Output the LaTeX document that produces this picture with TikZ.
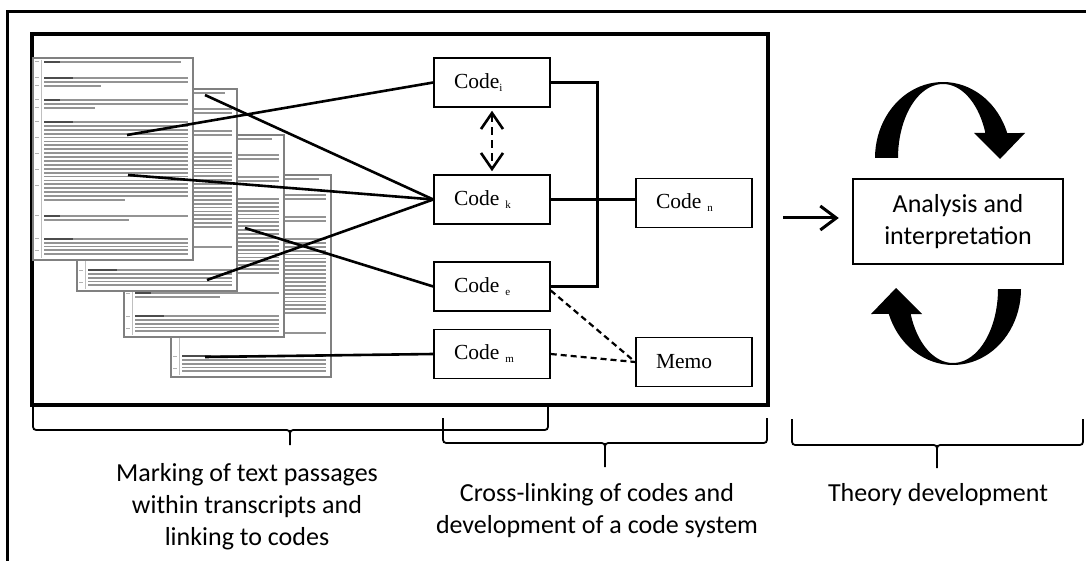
\documentclass[tikz,border=0pt]{standalone}
\usepackage{fontspec}
\setmainfont{Carlito}
\newfontfamily\tnr{Liberation Serif}
\usetikzlibrary{arrows.meta,calc}
\newcommand\sub[1]{\raisebox{-3pt}{\fontsize{11}{11}\selectfont #1}}
\newcommand\wbrace[6]{%
 \draw[bracepath] (#1,#4) -- (#1,#5-7) .. controls (#1,#5) .. (#1+7,#5) -- (#3-7,#5) .. controls (#3,#5) .. (#3,#5+7) -- (#3,#6);
 \draw[bracepath] (#2,#4) -- (#2,#5-7) .. controls (#2,#5) .. (#2-7,#5) -- (#3+7,#5) .. controls (#3,#5) .. (#3,#5+7);
}
\tikzset{
  pageborder/.style={draw=black!50,line width=2.2pt},
  txt/.style={black!42,line width=1.8pt},
  boldtxt/.style={black!70,line width=1.9pt},
  codebox/.style={draw,line width=1.5pt,minimum height=49pt,inner xsep=20pt,inner ysep=0pt,text width=76pt,align=left,font=\tnr\fontsize{21.5}{23}\selectfont},
  conn/.style={line width=2.6pt},
  dashconn/.style={line width=2.2pt,dash pattern=on 6pt off 4pt},
  lbl/.style={font=\fontsize{26}{32}\selectfont,align=center},
  bracepath/.style={line width=1.8pt},
  transcript/.pic={
    \fill[white] (0,0) rectangle (160,202);
    \draw[black!25,line width=0.6pt] (8,2) -- (8,200);
    \draw[txt] (11,4) -- (148,4); \draw[boldtxt] (11,4) -- (27,4);
    \foreach \yy/\ee in {20/155,24/155,28/68} {\draw[txt] (11,\yy) -- (\ee,\yy);}
    \draw[boldtxt] (11,20) -- (40,20);
    \foreach \yy/\ee in {42/155,46/155,50/62} {\draw[txt] (11,\yy) -- (\ee,\yy);}
    \draw[boldtxt] (11,42) -- (27,42);
    \foreach \i in {0,...,19} {\draw[txt] (11,{64+3.9*\i}) -- (155,{64+3.9*\i});}
    \draw[txt] (11,142) -- (92,142);
    \draw[boldtxt] (11,64) -- (40,64);
    \foreach \yy/\ee in {158/155,162/96} {\draw[txt] (11,\yy) -- (\ee,\yy);}
    \draw[boldtxt] (11,158) -- (27,158);
    \foreach \i in {0,...,4} {\draw[txt] (11,{181+3.8*\i}) -- (155,{181+3.8*\i});}
    \draw[boldtxt] (11,181) -- (40,181);
    \foreach \yy in {4,20,28,42,50,64,80,96,112,128,158,181,193} {\draw[black!30,line width=1pt] (2,\yy) -- (6,\yy);}
    \draw[pageborder] (0,0) rectangle (160,202);
  }
}
\begin{document}
\begin{tikzpicture}[x=1pt,y=-1pt]
\useasboundingbox (0,0) rectangle (1086,561);
% frames
\draw[line width=3.2pt] (7.5,565) -- (7.5,11.5) -- (1090,11.5);
\draw[line width=3.2pt] (32,34) rectangle (768,405);
% transcripts
\pic at (171,175) {transcript};
\pic at (124,135) {transcript};
\pic at (77,89) {transcript};
\pic at (33,58) {transcript};
% codes
\node[codebox] (ci) at (492,82.5) {Code\sub{i}};
\node[codebox] (ck) at (492,199.5) {Code\hspace{6pt}\sub{k}};
\node[codebox] (ce) at (492,286.5) {Code\hspace{6pt}\sub{e}};
\node[codebox] (cm) at (492,354) {Code\hspace{6pt}\sub{m}};
\node[codebox] (cn) at (694,203) {Code\hspace{6pt}\sub{n}};
\node[codebox] (memo) at (694,362) {Memo};
% document anchors
\coordinate (d1) at (127,135);
\coordinate (d2) at (205,95);
\coordinate (d3) at (128,175);
\coordinate (d4) at (207,280);
\coordinate (d5) at (245,228);
\coordinate (d6) at (205,357);
\draw[conn] (d1) -- (ci.west);
\draw[conn] (d2) -- (ck.west);
\draw[conn] (d3) -- (ck.west);
\draw[conn] (d4) -- (ck.west);
\draw[conn] (d5) -- (ce.west);
\draw[conn] (d6) -- (cm.west);
% code links
\draw[conn] (ci.east) -- ++(47,0) |- (ce.east);
\draw[conn] (ck.east) -- (ck.east -| cn.west);
\draw[line width=2.6pt,dash pattern=on 8pt off 5pt,{Straight Barb[length=16pt,width=22pt]}-{Straight Barb[length=16pt,width=22pt]}] ([yshift=-3pt]ci.south) -- ([yshift=3pt]ck.north);
\draw[dashconn] ([yshift=-4pt]ce.east) -- (memo.west);
\draw[dashconn] (cm.east) -- (memo.west);
% analysis
\node[draw,line width=2.4pt,minimum width=210pt,minimum height=85pt,lbl,inner sep=0pt] (ana) at (958,221.5) {Analysis and\\interpretation};
\coordinate (ain) at (783,218);
\draw[line width=3pt,-{Straight Barb[length=16pt,width=24pt]}] (ain) -- ($(ain -| ana.west)+(-13,0)$);
% cycle arrows
\fill (875,158) -- plot[domain=180:340.8,samples=40] ({943+68*cos(\x)},{158+76*sin(\x)}) -- (1025,133) -- (1000,159) -- (974,133) -- plot[domain=340.2:180,samples=40] ({943+45*cos(\x)},{158+74*sin(\x)}) -- cycle;
\begin{scope}[rotate around={180:(948,223.5)}]
\fill (875,158) -- plot[domain=180:340.8,samples=40] ({943+68*cos(\x)},{158+76*sin(\x)}) -- (1025,133) -- (1000,159) -- (974,133) -- plot[domain=340.2:180,samples=40] ({943+45*cos(\x)},{158+74*sin(\x)}) -- cycle;
\end{scope}
% braces
\wbrace{33}{548}{290}{407}{430}{445}
\wbrace{443}{767}{605}{418}{443}{467}
\wbrace{792}{1083}{937}{419}{445}{468}
% labels
\node[lbl] (l1) at (247,507) {Marking of text passages\\within transcripts and\\linking to codes};
\node[lbl] (l2) at (597,511) {Cross-linking of codes and\\development of a code system};
\node[lbl] (l3) at (938,495) {Theory development};
\end{tikzpicture}
\end{document}
